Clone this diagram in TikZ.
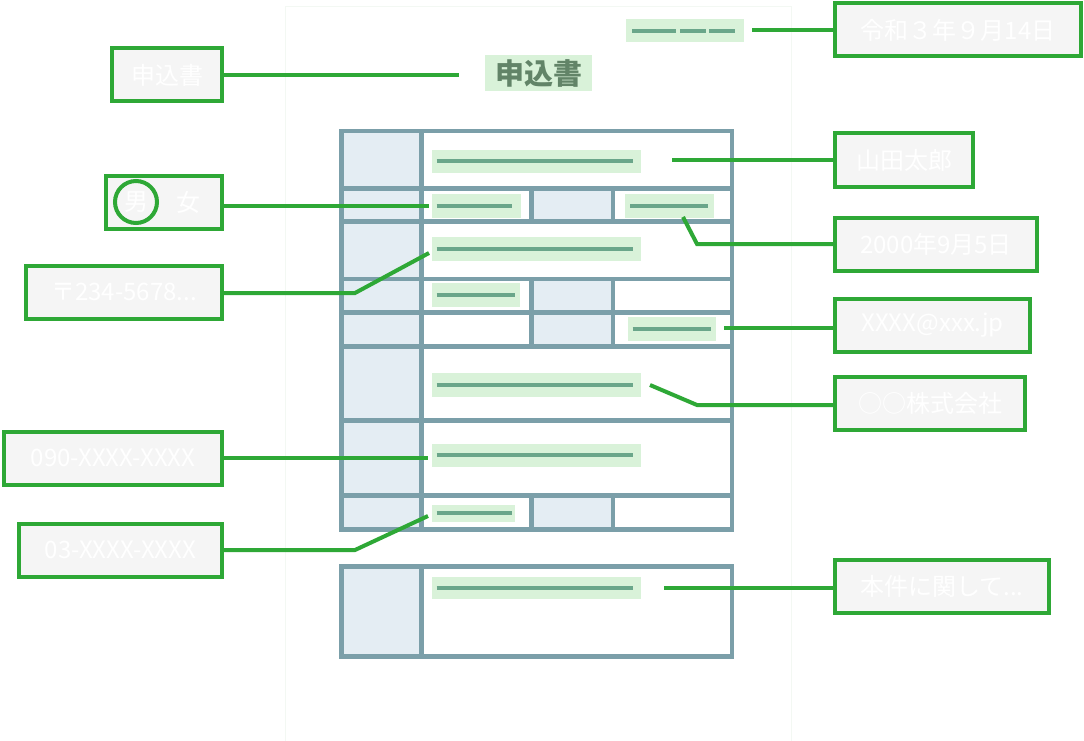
\documentclass[tikz,border=0pt]{standalone}
\usepackage{fontspec}
\usepackage{tikz}
\usetikzlibrary{positioning}
\usetikzlibrary{calc}
\usepackage{xcolor}
\newfontfamily\jp{Noto Sans CJK JP}
\definecolor{callgreen}{HTML}{2EA836}
\definecolor{formline}{HTML}{7B9FA9}
\definecolor{formshade}{HTML}{E4EDF3}
\definecolor{pillfill}{HTML}{D9F2D9}
\definecolor{pillbar}{HTML}{6AA68A}
\definecolor{titletext}{HTML}{628468}
\definecolor{boxfill}{HTML}{F5F5F5}
\definecolor{pageline}{HTML}{F3F8F3}

\begin{document}
\begin{tikzpicture}[x=1pt,y=-1pt,
    callout/.style={draw=callgreen, line width=4pt, fill=boxfill, text=white,
      font=\jp\fontsize{24}{28}\selectfont, minimum height=53pt, inner sep=0pt},
    pill/.style={fill=pillfill, inner sep=0pt, anchor=west},
    bar/.style={pillbar, line width=4pt},
    grid/.style={formline, line width=4.5pt},
    link/.style={callgreen, line width=4pt}]

    \useasboundingbox (0,0) rectangle (1084,741);
    \draw[pageline, fill=white] (285,6) rectangle (791,760);

    \fill[formshade] (341.5,131) rectangle (421.5,529.7);
    \fill[formshade] (341.5,566.3) rectangle (421.5,656.3);
    \foreach \ya/\yb in {188.7/221.7, 279/346.5, 495.7/529.7}
      \fill[formshade] (531.7,\ya) rectangle (613,\yb);

    \foreach \nm/\x/\y/\w/\h/\e in {pName/431.7/161.3/209/23/8, pSex/431.7/206/89/24/9,
        pBirth/625/206/89/24/6, pAddr/431.7/248.7/209/24/8, pRow/431.7/295/87.6/23.4/4.5,
        pMail/627.7/328.7/88.3/24/5, pCompany/431.7/384.7/209/24/8,
        pPhone/431.7/455.3/209/22.7/8, pTel/431.7/513.3/82.6/16.7/3, pNote/431.7/588/209/21.4/8} {
      \node[pill, minimum width=\w pt, minimum height=\h pt] (\nm) at (\x,\y) {};
      \draw[bar] ([xshift=5pt]\nm.west) -- ([xshift=-\e pt]\nm.east);
    }

    \draw[grid] (341.5,131) rectangle (732,529.7);
    \draw[grid] (341.5,566.3) rectangle (732,656.3);
    \draw[grid] (421.5,131) -- (421.5,529.7);
    \draw[grid] (421.5,566.3) -- (421.5,656.3);
    \foreach \y in {188.7,221.7,279,312.7,346.5,420.7,495.7}
      \draw[grid] (341.5,\y) -- (732,\y);
    \foreach \ya/\yb in {188.7/221.7, 279/346.5, 495.7/529.7} {
      \draw[grid] (531.7,\ya) -- (531.7,\yb);
      \draw[grid] (613,\ya) -- (613,\yb);
    }

    \node[pill, minimum width=118pt, minimum height=23pt] (pDate) at (626,30.8) {};
    \foreach \a/\b in {6.3/49.7, 54.3/79.7, 83.3/109}
      \draw[bar] ([xshift=\a pt]pDate.west) -- ([xshift=\b pt]pDate.west);

    \node[fill=pillfill, text=titletext, font=\jp\bfseries\fontsize{29}{33}\selectfont,
      minimum width=107pt, minimum height=36pt, inner sep=0pt] (title) at (538.5,73.5) {申込書};

    \node[callout, anchor=east, minimum width=110pt] (bTitle) at (224,75) {申込書};
    \node[callout, anchor=east, minimum width=116pt] (bSex) at (224,202) {};
    \node[callout, anchor=east, minimum width=196pt] (bZip) at (224,292) {〒234-5678...};
    \node[callout, anchor=east, minimum width=218pt] (bPhone) at (224,458) {090-XXXX-XXXX};
    \node[callout, anchor=east, minimum width=203pt] (bTel) at (224,550) {03-XXXX-XXXX};
    \node[callout, anchor=west, minimum width=246pt] (bDate) at (833,30) {令和３年９月14日};
    \node[callout, anchor=west, minimum width=138pt] (bName) at (833,160) {山田太郎};
    \node[callout, anchor=west, minimum width=202pt] (bBirth) at (833,244) {2000年9月5日};
    \node[callout, anchor=west, minimum width=195pt] (bMail) at (833,325.5) {XXXX@xxx.jp};
    \node[callout, anchor=west, minimum width=190pt] (bCompany) at (833,403.5) {○○株式会社};
    \node[callout, anchor=west, minimum width=214pt] (bNote) at (833,586) {本件に関して...};

    \node[draw=callgreen, line width=4pt, circle, minimum size=42pt, inner sep=0pt,
      text=white, font=\jp\fontsize{24}{28}\selectfont] (male) at (136,202) {男};
    \node[text=white, font=\jp\fontsize{24}{28}\selectfont] (female) at (188,202) {女};

    \coordinate (eTitle) at (459,75);
    \coordinate (kZip) at (355,293);
    \coordinate (eZip) at (429,253);
    \coordinate (ePhone) at (428,458);
    \coordinate (kTel) at (355,550);
    \coordinate (eTel) at (428,516);
    \coordinate (eDate) at (752,30);
    \coordinate (eName) at (672,160);
    \coordinate (eBirth) at (683,217);
    \coordinate (kBirth) at (697,244);
    \coordinate (eMail) at (724,328);
    \coordinate (eCompany) at (650,385);
    \coordinate (kCompany) at (697,405);
    \coordinate (eNote) at (664,588);

    \draw[link] (bTitle.east) -- (eTitle);
    \draw[link] (bSex.east |- pSex.west) -- ([xshift=-3pt]pSex.west);
    \draw[link] (bZip.east |- kZip) -- (kZip) -- (eZip);
    \draw[link] (bPhone.east |- ePhone) -- (ePhone);
    \draw[link] (bTel.east |- kTel) -- (kTel) -- (eTel);
    \draw[link] (eDate) -- (bDate.west |- eDate);
    \draw[link] (eName) -- (bName.west |- eName);
    \draw[link] (eBirth) -- (kBirth) -- (bBirth.west |- kBirth);
    \draw[link] (eMail) -- (bMail.west |- eMail);
    \draw[link] (eCompany) -- (kCompany) -- (bCompany.west |- kCompany);
    \draw[link] (eNote) -- (bNote.west |- eNote);
  \end{tikzpicture}
\end{document}
